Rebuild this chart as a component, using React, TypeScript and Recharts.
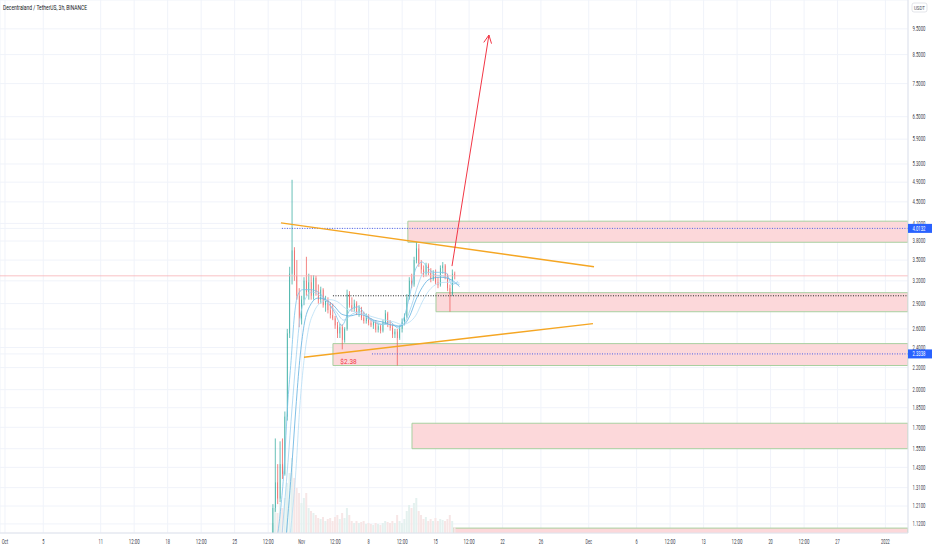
import React from 'react';
import {
  ComposedChart,
  Bar,
  Line,
  XAxis,
  YAxis,
  CartesianGrid,
  ReferenceArea,
  ReferenceLine,
  ReferenceDot,
  Cell,
} from 'recharts';

// time axis = days since 1 Oct 2021, candles every 6h
const candleDays = [
  28, 28.25, 28.5, 28.75, 29, 29.25, 29.5, 29.75, 30, 30.25, 30.5, 30.75,
  31, 31.25, 31.5, 31.75, 32, 32.25, 32.5, 32.75, 33, 33.25, 33.5, 33.75,
  34, 34.25, 34.5, 34.75, 35, 35.25, 35.5, 35.75, 36, 36.25, 36.5, 36.75,
  37, 37.25, 37.5, 37.75, 38, 38.25, 38.5, 38.75, 39, 39.25, 39.5, 39.75,
  40, 40.25, 40.5, 40.75, 41, 41.25, 41.5, 41.75, 42, 42.25, 42.5, 42.75,
  43, 43.25, 43.5, 43.75, 44, 44.25, 44.5, 44.75, 45, 45.25, 45.5, 45.75,
  46, 46.25, 46.5, 46.75, 47,
];
const openPrices = [
  1.0, 1.2, 1.34, 1.25, 1.45, 1.39, 1.78, 2.55, 3.3, 3.65, 3.28, 3.0,
  2.72, 2.95, 3.2, 3.05, 3.18, 3.0, 3.24, 3.05, 2.95, 3.08, 2.88, 2.95,
  2.82, 2.76, 2.72, 2.64, 2.55, 2.62, 2.48, 2.6, 3.02, 2.88, 2.84, 2.9,
  2.79, 2.84, 2.73, 2.69, 2.74, 2.67, 2.64, 2.68, 2.59, 2.63, 2.58, 2.67,
  2.78, 2.65, 2.61, 2.54, 2.57, 2.5, 2.6, 2.68, 2.74, 2.98, 3.2, 3.15,
  3.5, 3.68, 3.45, 3.36, 3.3, 3.42, 3.32, 3.22, 3.3, 3.18, 3.14, 3.38,
  3.42, 3.26, 3.1, 3.02, 3.3,
];
const highPrices = [
  1.22, 1.62, 1.45, 1.6, 1.62, 1.82, 2.6, 3.4, 4.95, 3.7, 3.5, 3.1,
  3.0, 3.25, 3.55, 3.3, 3.28, 3.28, 3.27, 3.15, 3.12, 3.1, 3.0, 2.98,
  2.92, 2.9, 2.75, 2.68, 2.66, 2.65, 2.62, 3.08, 3.06, 2.98, 2.95, 2.93,
  2.88, 2.86, 2.8, 2.78, 2.77, 2.72, 2.7, 2.7, 2.66, 2.65, 2.7, 2.82,
  2.8, 2.7, 2.66, 2.6, 2.6, 2.64, 2.72, 2.78, 3.02, 3.25, 3.3, 3.55,
  3.78, 3.75, 3.5, 3.42, 3.46, 3.45, 3.38, 3.35, 3.36, 3.25, 3.42, 3.47,
  3.44, 3.3, 3.15, 3.36, 3.33,
];
const lowPrices = [
  0.98, 1.18, 1.22, 1.23, 1.36, 1.38, 1.75, 2.5, 3.15, 3.2, 2.95, 2.62,
  2.65, 2.88, 3.0, 2.95, 2.95, 2.95, 3.0, 2.9, 2.9, 2.85, 2.8, 2.78,
  2.72, 2.7, 2.6, 2.5, 2.5, 2.38, 2.45, 2.58, 2.85, 2.8, 2.8, 2.76,
  2.74, 2.7, 2.66, 2.66, 2.64, 2.62, 2.6, 2.56, 2.56, 2.55, 2.56, 2.65,
  2.62, 2.58, 2.5, 2.5, 2.22, 2.48, 2.56, 2.64, 2.72, 2.95, 3.1, 3.12,
  3.45, 3.4, 3.3, 3.25, 3.26, 3.28, 3.18, 3.2, 3.15, 3.1, 3.12, 3.3,
  3.22, 3.06, 2.8, 3.0, 3.22,
];
const closePrices = [
  1.2, 1.34, 1.25, 1.45, 1.39, 1.78, 2.55, 3.3, 3.65, 3.28, 3.0, 2.72,
  2.95, 3.2, 3.05, 3.18, 3.0, 3.24, 3.05, 2.95, 3.08, 2.88, 2.95, 2.82,
  2.76, 2.72, 2.64, 2.55, 2.62, 2.48, 2.6, 3.02, 2.88, 2.84, 2.9, 2.79,
  2.84, 2.73, 2.69, 2.74, 2.67, 2.64, 2.68, 2.59, 2.63, 2.58, 2.67, 2.78,
  2.65, 2.61, 2.54, 2.57, 2.5, 2.6, 2.68, 2.74, 2.98, 3.2, 3.15, 3.5,
  3.68, 3.45, 3.36, 3.3, 3.42, 3.32, 3.22, 3.3, 3.18, 3.14, 3.38, 3.42,
  3.26, 3.1, 3.02, 3.3, 3.27,
];
const volumeValues = [
  10, 25, 20, 30, 25, 35, 50, 60, 75, 55, 45, 40,
  30, 35, 40, 25, 22, 20, 18, 15, 14, 16, 12, 14,
  15, 12, 16, 18, 14, 20, 15, 25, 18, 12, 10, 12,
  10, 11, 12, 9, 10, 9, 8, 10, 9, 8, 10, 12,
  11, 10, 12, 10, 18, 12, 10, 14, 22, 28, 25, 30,
  35, 22, 18, 14, 16, 12, 14, 12, 15, 12, 14, 13,
  12, 14, 18, 12, 6,
];

// moving averages
const ma1Days = [28.5, 29.15, 29.57, 29.9, 30.2, 30.6, 31.1, 31.9, 32.7, 33.5, 34.4, 35.2, 36.05, 36.9, 37.7, 38.55, 39.4, 40.2, 41.1, 41.7, 42.3, 42.95, 43.6, 44.2, 44.8, 45.45, 46.1, 46.7, 47.3];
const ma1Values = [1.07, 1.41, 1.91, 2.27, 2.7, 3.01, 3.08, 3.08, 3.05, 2.95, 2.8, 2.64, 2.82, 2.86, 2.76, 2.68, 2.65, 2.68, 2.61, 2.73, 3.01, 3.38, 3.47, 3.38, 3.32, 3.32, 3.31, 3.15, 3.19];
const ma2Days = [28.95, 29.57, 30.0, 30.4, 30.8, 31.35, 32.1, 32.9, 33.75, 34.6, 35.4, 36.25, 37.1, 37.9, 38.8, 39.6, 40.4, 41.3, 41.9, 42.5, 43.15, 43.8, 44.4, 45.0, 45.7, 46.3, 46.9, 47.5];
const ma2Values = [1.07, 1.46, 1.85, 2.27, 2.7, 2.95, 3.05, 3.0, 2.91, 2.8, 2.7, 2.77, 2.8, 2.72, 2.68, 2.65, 2.65, 2.63, 2.7, 2.88, 3.14, 3.32, 3.32, 3.28, 3.27, 3.24, 3.17, 3.15];
const ma3Days = [29.4, 30.0, 30.4, 30.8, 31.25, 31.9, 32.7, 33.5, 34.4, 35.2, 36.05, 36.9, 37.7, 38.55, 39.4, 40.2, 41.1, 41.7, 42.3, 42.95, 43.6, 44.2, 44.8, 45.45, 46.1, 46.7, 47.5];
const ma3Values = [1.07, 1.46, 1.85, 2.27, 2.64, 2.88, 2.97, 2.95, 2.87, 2.77, 2.75, 2.77, 2.75, 2.7, 2.68, 2.65, 2.63, 2.65, 2.75, 2.95, 3.11, 3.21, 3.24, 3.25, 3.24, 3.21, 3.12];
const ma4Days = [29.8, 30.4, 30.8, 31.25, 31.7, 32.3, 33.1, 33.95, 34.8, 35.6, 36.5, 37.3, 38.1, 39.0, 39.8, 40.65, 41.5, 42.3, 42.95, 43.6, 44.2, 44.8, 45.45, 46.1, 46.7, 47.5];
const ma4Values = [1.07, 1.41, 1.85, 2.27, 2.59, 2.8, 2.92, 2.95, 2.92, 2.84, 2.8, 2.77, 2.75, 2.72, 2.7, 2.68, 2.65, 2.68, 2.76, 2.92, 3.05, 3.13, 3.17, 3.18, 3.18, 3.17];

// zones: start day, top price, bottom price
const zoneStarts = [42.1, 45.04, 34.27, 42.53, 46.81];
const zoneTops = [4.14, 3.04, 2.44, 1.73, 1.1];
const zoneBottoms = [3.78, 2.8, 2.22, 1.55, 1.0];

// drawn lines: [day, price] pairs
const upperTrend = [[28.84, 4.11], [61.55, 3.4]];
const lowerTrend = [[31.24, 2.3], [61.44, 2.66]];
const targetArrow = [[46.71, 3.41], [50.57, 9.25]];
const markedPrices = [4.0132, 2.3338];
const markedFrom = [28.94, 38.35];
const levelPrice = 3.0;
const levelFrom = 34.27;
const lastPrice = 3.27;
const lowNote = { d: 35.9, price: 2.26, text: '$2.38' };

const xTickDays = [0, 4, 10, 13.5, 17, 20.5, 24, 27.5, 31, 34.5, 38, 41.5, 45, 48.5, 52, 56, 61, 66, 69.5, 73, 76.5, 80, 83.5, 87, 92];
const xTickLabels = ['Oct', '5', '11', '12:00', '18', '12:00', '25', '12:00', 'Nov', '12:00', '8', '12:00', '15', '12:00', '22', '26', 'Dec', '6', '12:00', '13', '12:00', '20', '12:00', '27', '2022'];
const yTicks = [9.5, 8.5, 7.5, 6.5, 5.9, 5.3, 4.9, 4.5, 4.1, 3.8, 3.5, 3.2, 2.9, 2.6, 2.4, 2.2, 2.0, 1.85, 1.7, 1.55, 1.43, 1.31, 1.21, 1.12, 4.0132, 2.3338];

const X_DOMAIN = [-0.52, 94.36];
const Y_DOMAIN = [1.077, 10.76];
const FONT = 'Roboto, "Noto Sans", sans-serif';
const UP = '#26a69a';
const DOWN = '#ef5350';

const candles = candleDays.map((d, i) => ({
  d,
  open: openPrices[i],
  high: highPrices[i],
  low: lowPrices[i],
  close: closePrices[i],
  volume: volumeValues[i],
}));

const toSeries = (days: number[], values: number[]) => days.map((d, i) => ({ d, v: values[i] }));
const maSeries = [
  { data: toSeries(ma1Days, ma1Values), color: '#7cc3ea' },
  { data: toSeries(ma2Days, ma2Values), color: '#9fd2f0' },
  { data: toSeries(ma3Days, ma3Values), color: '#5fb0e0' },
  { data: toSeries(ma4Days, ma4Values), color: '#b7def5' },
];

const Candle = (props: any) => {
  const { x, y, width, height, payload } = props;
  if (!payload || height == null) return null;
  const top = Math.log(payload.high);
  const span = top - Math.log(payload.low);
  const at = (v: number) => y + (span ? (height * (top - Math.log(v))) / span : 0);
  const up = payload.close >= payload.open;
  const color = up ? UP : DOWN;
  const cx = x + width / 2;
  const b1 = at(Math.max(payload.open, payload.close));
  const b2 = at(Math.min(payload.open, payload.close));
  return (
    <g>
      <line x1={cx} x2={cx} y1={y} y2={y + height} stroke={color} strokeWidth={0.7} />
      <rect x={x} y={b1} width={width} height={Math.max(0.8, b2 - b1)} fill={color} />
    </g>
  );
};

const ArrowShape = (props: any) => {
  const { x1, y1, x2, y2 } = props;
  const ang = Math.atan2(y2 - y1, x2 - x1);
  const len = 9;
  const a1 = ang + Math.PI - 0.45;
  const a2 = ang + Math.PI + 0.45;
  return (
    <g stroke="#f23645" strokeWidth={1} fill="none">
      <line x1={x1} y1={y1} x2={x2} y2={y2} />
      <polyline
        points={`${x2 + len * Math.cos(a1)},${y2 + len * Math.sin(a1)} ${x2},${y2} ${x2 + len * Math.cos(a2)},${y2 + len * Math.sin(a2)}`}
      />
    </g>
  );
};

const PriceTick = (props: any) => {
  const { x, y, payload } = props;
  const v = payload.value;
  const label = v.toFixed(4);
  if (markedPrices.includes(v)) {
    return (
      <g>
        <rect x={x} y={y - 4.5} width={24} height={9} fill="#2962ff" />
        <text x={x + 4.5} y={y + 2.3} fill="#ffffff" fontSize={6.5} fontFamily={FONT} textLength={13} lengthAdjust="spacingAndGlyphs">
          {label}
        </text>
      </g>
    );
  }
  return (
    <text x={x + 4.5} y={y + 2.3} fill="#3d414d" fontSize={6.5} fontFamily={FONT} textLength={13} lengthAdjust="spacingAndGlyphs">
      {label}
    </text>
  );
};

const TimeTick = (props: any) => {
  const { x, y, payload } = props;
  const label = xTickLabels[xTickDays.indexOf(payload.value)] ?? '';
  return (
    <text x={x} y={y + 11} fill="#3d414d" fontSize={6.5} fontFamily={FONT} textAnchor="middle" textLength={label.length * 2.2} lengthAdjust="spacingAndGlyphs">
      {label}
    </text>
  );
};

export default function App() {
  return (
    <div style={{ position: 'absolute', left: 0, top: 0, width: 932, height: 550, background: '#ffffff' }}>
      <ComposedChart width={932} height={550} data={candles} margin={{ top: 0, right: 0, bottom: 0, left: 0 }}>
        <CartesianGrid xAxisId="t" yAxisId="p" stroke="#f0f3fa" strokeWidth={1} />
        <XAxis
          xAxisId="t"
          type="number"
          dataKey="d"
          domain={X_DOMAIN}
          allowDataOverflow
          ticks={xTickDays}
          interval={0}
          height={17}
          tickSize={0}
          tickMargin={0}
          tickLine={false}
          axisLine={{ stroke: '#e0e3eb' }}
          tick={<TimeTick />}
        />
        <XAxis xAxisId="v" type="number" dataKey="d" domain={X_DOMAIN} allowDataOverflow hide />
        <YAxis
          yAxisId="p"
          orientation="right"
          type="number"
          scale="log"
          domain={Y_DOMAIN}
          allowDataOverflow
          ticks={yTicks}
          interval={0}
          width={24}
          tickSize={0}
          tickMargin={0}
          tickLine={false}
          axisLine={{ stroke: '#e0e3eb' }}
          tick={<PriceTick />}
        />
        <YAxis yAxisId="v" type="number" domain={[0, 533]} hide />

        {zoneStarts.map((start, i) => (
          <ReferenceArea
            key={`zone-${i}`}
            xAxisId="t"
            yAxisId="p"
            x1={start}
            x2={X_DOMAIN[1]}
            y1={zoneBottoms[i]}
            y2={zoneTops[i]}
            ifOverflow="hidden"
            fill="#fcd8da"
            fillOpacity={1}
            stroke="#a8d0a0"
            strokeWidth={1}
          />
        ))}

        <ReferenceLine xAxisId="t" yAxisId="p" y={lastPrice} stroke="#f7b3b6" strokeWidth={0.8} />

        <Bar xAxisId="v" yAxisId="v" dataKey="volume" barSize={2} isAnimationActive={false}>
          {candles.map((c, i) => (
            <Cell key={`v-${i}`} fill={c.close >= c.open ? '#e4f1ef' : '#f7e6e6'} />
          ))}
        </Bar>

        {maSeries.map((s, i) => (
          <Line
            key={`ma-${i}`}
            xAxisId="t"
            yAxisId="p"
            data={s.data}
            dataKey="v"
            type="monotone"
            stroke={s.color}
            strokeWidth={0.8}
            dot={false}
            activeDot={false}
            isAnimationActive={false}
          />
        ))}

        <Bar
          xAxisId="t"
          yAxisId="p"
          dataKey={(e: any) => [e.low, e.high]}
          barSize={1.8}
          shape={<Candle />}
          isAnimationActive={false}
        />

        {markedPrices.map((p, i) => (
          <ReferenceLine
            key={`mark-${i}`}
            xAxisId="t"
            yAxisId="p"
            segment={[{ x: markedFrom[i], y: p }, { x: X_DOMAIN[1], y: p }]}
            stroke="#4a5ee8"
            strokeWidth={1}
            strokeDasharray="1 1.5"
          />
        ))}
        <ReferenceLine
          xAxisId="t"
          yAxisId="p"
          segment={[{ x: levelFrom, y: levelPrice }, { x: X_DOMAIN[1], y: levelPrice }]}
          stroke="#222222"
          strokeWidth={1}
          strokeDasharray="1 1.5"
        />

        <ReferenceLine
          xAxisId="t"
          yAxisId="p"
          segment={[{ x: upperTrend[0][0], y: upperTrend[0][1] }, { x: upperTrend[1][0], y: upperTrend[1][1] }]}
          stroke="#f5a623"
          strokeWidth={1.5}
        />
        <ReferenceLine
          xAxisId="t"
          yAxisId="p"
          segment={[{ x: lowerTrend[0][0], y: lowerTrend[0][1] }, { x: lowerTrend[1][0], y: lowerTrend[1][1] }]}
          stroke="#f5a623"
          strokeWidth={1.5}
        />
        <ReferenceLine
          xAxisId="t"
          yAxisId="p"
          segment={[{ x: targetArrow[0][0], y: targetArrow[0][1] }, { x: targetArrow[1][0], y: targetArrow[1][1] }]}
          shape={<ArrowShape />}
        />
        <ReferenceDot
          xAxisId="t"
          yAxisId="p"
          x={lowNote.d}
          y={lowNote.price}
          r={0}
          fill="none"
          stroke="none"
          label={{ value: lowNote.text, position: 'center', fill: '#f23645', fontSize: 6.5, fontFamily: FONT }}
        />
      </ComposedChart>

      <svg width={932} height={550} style={{ position: 'absolute', left: 0, top: 0, pointerEvents: 'none' }}>
        <text x={3} y={9.5} fontSize={6.5} fontFamily={FONT} fill="#131722" textLength={84} lengthAdjust="spacingAndGlyphs">
          Decentraland / TetherUS, 3h, BINANCE
        </text>
        <rect x={912} y={3} width={15} height={9} rx={2} fill="#ffffff" stroke="#d1d4dc" strokeWidth={0.6} />
        <text x={914} y={9.8} fontSize={5.5} fontFamily={FONT} fill="#50535e" textLength={11} lengthAdjust="spacingAndGlyphs">
          USDT
        </text>
      </svg>
    </div>
  );
}
